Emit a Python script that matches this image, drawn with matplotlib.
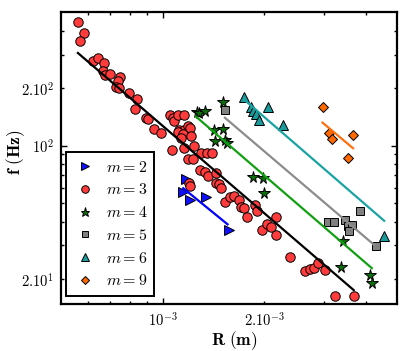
import matplotlib

matplotlib.use("Agg")
import matplotlib.pyplot as plt

plt.rcParams["mathtext.fontset"] = "cm"
plt.rcParams["font.family"] = "serif"

# --- data: R in m, f in Hz ---
R2 = [1.172e-3, 1.151e-3, 1.207e-3, 1.343e-3, 1.568e-3]
f2 = [66.7, 57.4, 51.9, 53.6, 36.1]

R3 = [5.60e-4, 5.84e-4, 5.68e-4, 6.21e-4, 6.45e-4, 6.72e-4, 6.64e-4, 6.75e-4,
      7.00e-4, 7.46e-4, 7.36e-4, 7.29e-4, 7.44e-4, 7.95e-4, 8.38e-4, 8.30e-4,
      8.94e-4, 9.06e-4, 9.42e-4, 9.89e-4, 1.053e-3, 1.070e-3, 1.078e-3, 1.108e-3,
      1.159e-3, 1.120e-3, 1.159e-3, 1.186e-3, 1.207e-3, 1.108e-3, 1.146e-3,
      1.133e-3, 1.213e-3, 1.063e-3, 1.159e-3, 1.240e-3, 1.186e-3, 1.227e-3,
      1.298e-3, 1.350e-3, 1.396e-3, 1.292e-3, 1.334e-3, 1.359e-3, 1.438e-3,
      1.199e-3, 1.205e-3, 1.438e-3, 1.471e-3, 1.488e-3, 1.529e-3, 1.585e-3,
      1.629e-3, 1.686e-3, 1.705e-3, 1.744e-3, 1.773e-3, 1.876e-3, 1.902e-3,
      1.964e-3, 2.032e-3, 2.092e-3, 2.169e-3, 2.169e-3, 2.386e-3, 2.638e-3,
      2.735e-3, 2.800e-3, 2.888e-3, 3.020e-3, 3.240e-3, 3.690e-3]
f3 = [442, 391, 353, 278, 287, 270, 247, 235,
      236, 229, 217, 202, 200, 188, 176, 155,
      140, 137.5, 122, 117, 144, 139, 135, 145,
      145, 121, 121, 126, 123, 118, 115,
      109, 113, 95, 96.9, 100, 84.9, 84.9,
      91.9, 91.9, 91.9, 74.6, 73.1, 69.4, 72.2,
      64.0, 61.8, 64.0, 62.7, 60.2, 50.8, 54.0,
      54.5, 51.9, 47.9, 46.9, 42.3, 48.9, 45.6,
      36.1, 38.7, 37.6, 42.3, 34.0, 26.2, 22.1,
      22.5, 22.8, 24.4, 22.3, 16.2, 16.2]

R4 = [1.263e-3, 1.281e-3, 1.337e-3, 1.505e-3, 1.416e-3, 1.505e-3, 1.431e-3,
      1.529e-3, 1.550e-3, 1.854e-3, 1.977e-3, 1.991e-3, 3.411e-3, 3.372e-3,
      4.118e-3, 4.166e-3]
f4 = [150.8, 147.5, 151.5, 170.1, 121.3, 122.3, 105.2,
      107.5, 103.3, 68.8, 67.5, 56.5, 31.6, 23.1,
      20.9, 19.1]

R5 = [1.529e-3, 3.085e-3, 3.221e-3, 3.470e-3, 3.529e-3, 3.634e-3, 3.573e-3,
      3.846e-3, 4.295e-3]
f5 = [153.9, 39.8, 40.0, 40.6, 38.0, 38.5, 35.6, 45.6, 29.9]

R6 = [1.738e-3, 1.825e-3, 1.851e-3, 1.889e-3, 1.932e-3, 2.046e-3, 2.266e-3,
      4.520e-3]
f6 = [180.7, 160.2, 152.1, 145.8, 136.4, 160.2, 128.8, 33.6]

R9 = [2.976e-3, 3.100e-3, 3.171e-3, 3.666e-3, 3.548e-3]
f9 = [158.6, 116.1, 108.7, 113.8, 85.9]

# power-law fits (f ~ R^-3/2), start and end of each segment
fit_R = {2: [1.151e-3, 1.557e-3], 3: [5.61e-4, 3.68e-3], 4: [1.255e-3, 4.165e-3],
         5: [1.529e-3, 4.23e-3], 6: [1.738e-3, 4.53e-3], 9: [2.976e-3, 3.665e-3]}
fit_f = {2: [59.8, 38.7], 3: [306, 17.5], 4: [142, 22.8],
         5: [140, 30.2], 6: [175, 40.4], 9: [132, 96.9]}

series = [
    (2, R2, f2, ">", "#1010ff", "#0000ff", 7.0),
    (3, R3, f3, "o", "#ff3b3b", "black", 6.8),
    (4, R4, f4, "*", "#0b6e0b", "#12a012", 8.5),
    (5, R5, f5, "s", "#808080", "#8c8c8c", 5.2),
    (6, R6, f6, "^", "#1a9a9a", "#1aa3a3", 7.5),
    (9, R9, f9, "D", "#ff6a00", "#ff7010", 5.5),
]

fig = plt.figure(figsize=(4.15, 3.51), dpi=100)
ax = fig.add_axes([0.147, 0.134, 0.810, 0.832])

for m, R, f, mk, fc, lc, ms in series:
    ax.plot(R, f, linestyle="none", marker=mk, markersize=ms, markerfacecolor=fc,
            markeredgecolor="black", markeredgewidth=0.7,
            label=r"$m = \mathit{%d}$" % m, zorder=3)
for m, R, f, mk, fc, lc, ms in series:
    ax.plot(fit_R[m], fit_f[m], color=lc, lw=1.6, zorder=4)

ax.set_xscale("log")
ax.set_yscale("log")
ax.set_xlim(5.0e-4, 4.95e-3)
ax.set_ylim(14.8, 502)

ax.set_xticks([1e-3], labels=[r"$10^{-3}$"])
ax.set_xticks([6e-4, 7e-4, 8e-4, 9e-4, 2e-3, 3e-3, 4e-3],
              labels=["", "", "", "", r"$2.10^{-3}$", "", ""], minor=True)
ax.set_yticks([100], labels=[r"$10^{2}$"])
ax.set_yticks([20, 30, 40, 50, 60, 70, 80, 90, 200, 300, 400],
              labels=[r"$2.10^{1}$", "", "", "", "", "", "", "", r"$2.10^{2}$", "", ""],
              minor=True)
ax.tick_params(which="both", direction="in", top=True, right=True, labelsize=10.5,
               width=1.0, pad=5)
ax.tick_params(which="major", length=4.5)
ax.tick_params(which="minor", length=2.5)
for s in ax.spines.values():
    s.set_linewidth(1.6)

ax.set_xlabel(r"$\mathbf{R\ (m)}$", fontsize=12.5)
ax.set_ylabel(r"$\mathbf{f\ (Hz)}$", fontsize=12.5)
ax.xaxis.set_label_coords(0.515, -0.085)
ax.yaxis.set_label_coords(-0.10, 0.52)

leg = ax.legend(loc="lower left", bbox_to_anchor=(0.014, 0.028), borderaxespad=0,
                fancybox=False, edgecolor="black", framealpha=1, fontsize=11.5,
                markerscale=0.8, handletextpad=0.5, labelspacing=0.36,
                handlelength=1.6, borderpad=0.4)
leg.get_frame().set_linewidth(1.4)

fig.savefig("out.png", dpi=100)
